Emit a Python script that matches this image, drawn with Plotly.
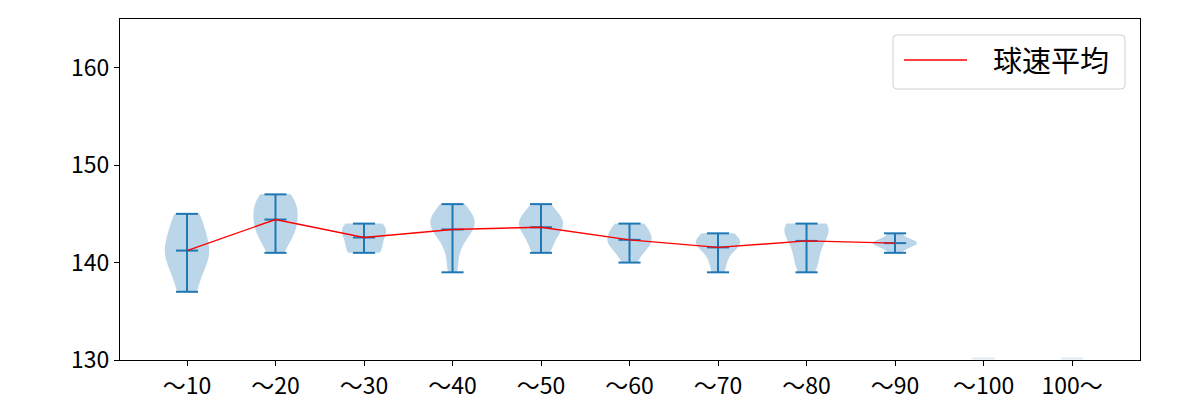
import numpy as np
import plotly.graph_objects as go

# ---- data -------------------------------------------------------------
categories = ["〜10", "〜20", "〜30", "〜40", "〜50", "〜60", "〜70", "〜80", "〜90", "〜100", "100〜"]
positions = [1, 2, 3, 4, 5, 6, 7, 8, 9, 10, 11]

speeds_10 = [137, 137, 139, 140, 140, 141, 141, 142, 142, 143, 144, 145, 145]
speeds_20 = [141, 142, 143, 143, 144, 144, 145, 145, 146, 146, 147, 147]
speeds_30 = [141, 141, 142, 143, 143, 144, 144]
speeds_40 = [139, 141, 143, 143, 144, 144, 144, 145, 145, 146]
speeds_50 = [141, 142, 143, 144, 144, 144, 145, 146]
speeds_60 = [140, 141, 142, 142, 142, 143, 143, 144, 144]
speeds_70 = [139, 140, 141, 142, 142, 142, 142, 143, 143]
speeds_80 = [139, 140, 141, 142, 143, 143, 144, 144, 144]
speeds_90 = [141, 142, 142, 142, 142, 143]
speeds_100 = []
speeds_over = []

legend_label = "球速平均"
y_range = [130, 165]
y_ticks = [130, 140, 150, 160]

speed_lists = [speeds_10, speeds_20, speeds_30, speeds_40, speeds_50, speeds_60,
               speeds_70, speeds_80, speeds_90, speeds_100, speeds_over]

# ---- style ------------------------------------------------------------
BLUE = "#1f77b4"
FILL = "rgba(31,119,180,0.3)"
FONT = "Noto Sans CJK JP"
W, H = 1200, 400
ML, MR, MT, MB = 120, 60, 19, 40
PW, PH = W - ML - MR, H - MT - MB
half = 0.125  # half width of extrema / mean bars (data units)

fig = go.Figure()

# violins (Scott bandwidth like matplotlib's gaussian_kde)
for pos, s in zip(positions, speed_lists):
    if len(s) < 2:
        continue
    arr = np.asarray(s, dtype=float)
    bw = float(np.std(arr, ddof=1) * len(arr) ** (-0.2))
    fig.add_trace(go.Violin(
        x=[pos] * len(s), y=s, width=0.5, spanmode="hard", bandwidth=bw,
        scalemode="width", fillcolor=FILL,
        line=dict(width=0, color="rgba(31,119,180,0)"),
        points=False, box_visible=False, meanline_visible=False,
        showlegend=False, hoverinfo="skip", orientation="v",
    ))

# extrema bars, mean bars and vertical lines
lx, ly = [], []
mean_x, mean_y = [], []
faint_x, faint_y = [], []
for pos, s in zip(positions, speed_lists):
    if len(s) == 0:
        faint_x += [pos - half, pos + half, None]
        faint_y += [y_range[0] + 0.15, y_range[0] + 0.15, None]
        continue
    mn, mx, me = min(s), max(s), float(np.mean(s))
    mean_x.append(pos)
    mean_y.append(me)
    lx += [pos, pos, None]
    ly += [mn, mx, None]
    for v in (mn, mx, me):
        lx += [pos - half, pos + half, None]
        ly += [v, v, None]

fig.add_trace(go.Scatter(x=faint_x, y=faint_y, mode="lines",
                         line=dict(color="rgba(31,119,180,0.15)", width=2),
                         showlegend=False, hoverinfo="skip", cliponaxis=False))
fig.add_trace(go.Scatter(x=lx, y=ly, mode="lines", line=dict(color=BLUE, width=2),
                         showlegend=False, hoverinfo="skip"))
fig.add_trace(go.Scatter(x=mean_x, y=mean_y, mode="lines", name=legend_label,
                         line=dict(color="red", width=1.4),
                         showlegend=False, hoverinfo="skip"))

# ---- manual matplotlib-style legend ----------------------------------
def px_x(p):
    return (p - ML) / PW

def px_y(p):
    return (H - MB - p) / PH

bx0, bx1, by0, by1 = 893, 1125, 35, 89
r = 4
def P(x, y):
    return f"{px_x(x):.5f},{px_y(y):.5f}"
path = (f"M {P(bx0 + r, by0)} L {P(bx1 - r, by0)} Q {P(bx1, by0)} {P(bx1, by0 + r)} "
        f"L {P(bx1, by1 - r)} Q {P(bx1, by1)} {P(bx1 - r, by1)} "
        f"L {P(bx0 + r, by1)} Q {P(bx0, by1)} {P(bx0, by1 - r)} "
        f"L {P(bx0, by0 + r)} Q {P(bx0, by0)} {P(bx0 + r, by0)} Z")
fig.add_shape(type="path", path=path, xref="paper", yref="paper",
              fillcolor="rgba(255,255,255,0.8)", line=dict(color="#d0d0d0", width=1))
fig.add_shape(type="line", xref="paper", yref="paper",
              x0=px_x(904), x1=px_x(967), y0=px_y(60), y1=px_y(60),
              line=dict(color="red", width=1.4))
fig.add_annotation(text=legend_label, xref="paper", yref="paper",
                   x=px_x(991), y=px_y(59), xanchor="left", yanchor="middle",
                   showarrow=False, font=dict(family=FONT, size=29, color="black"))

# ---- layout -----------------------------------------------------------
axis_common = dict(showline=True, linecolor="black", linewidth=1, mirror=True,
                   ticks="outside", ticklen=5, tickwidth=1, tickcolor="black",
                   showgrid=False, zeroline=False, automargin=False,
                   tickfont=dict(family=FONT, size=23, color="black"))
fig.update_layout(
    width=W, height=H,
    margin=dict(l=ML, r=MR, t=MT, b=MB, autoexpand=False),
    plot_bgcolor="white", paper_bgcolor="white",
    violinmode="overlay", showlegend=False,
    font=dict(family=FONT, color="black"),
    xaxis=dict(range=[0.243, 11.768], tickmode="array", tickvals=positions,
               ticktext=categories, **axis_common),
    yaxis=dict(range=y_range, tickmode="array", tickvals=y_ticks, **axis_common),
)

fig.write_html("out.html")
